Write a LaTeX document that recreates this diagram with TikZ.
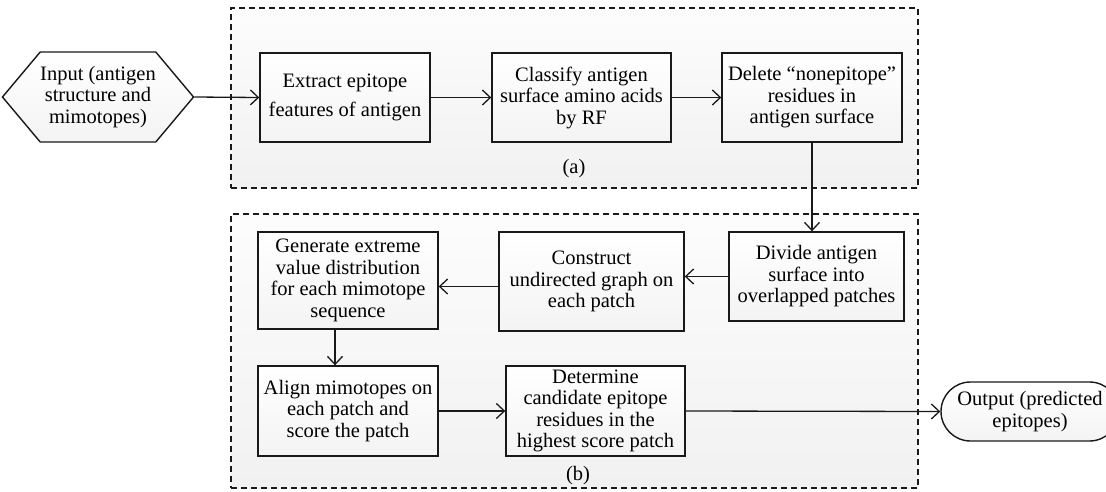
\documentclass[tikz,border=0pt]{standalone}
\usepackage{fontspec}
\setmainfont{Liberation Serif}
\usetikzlibrary{arrows.meta,shapes.symbols,shapes.misc}
\begin{document}
\begin{tikzpicture}[x=1pt,y=-1pt,
  txt/.style={font=\fontsize{20.5}{21.5}\selectfont, text=black},
  box/.style={txt, draw=black!90, line width=1.4pt, top color=white, bottom color=gray!9, align=center, inner sep=0pt},
  panel/.style={draw=black!90, dash pattern=on 6pt off 4pt, line width=1.4pt, top color=gray!2, bottom color=gray!11, inner sep=0pt},
  arr/.style={-{Straight Barb[length=8pt,width=15pt]}, line width=1.3pt, draw=black!90}
]
\useasboundingbox (0,0) rectangle (1106,491);
\node[panel, minimum width=687, minimum height=180] (pa) at (574.5,98) {};
\node[panel, minimum width=687, minimum height=274] (pb) at (574.5,351) {};

\node[box, shape=signal, signal to=west and east, signal pointer angle=100, minimum width=180, minimum height=90] (in) at (98,97) {Input (antigen\\structure and\\mimotopes)};
\node[box, minimum width=170, minimum height=89] (ext) at (345,97.5) {Extract epitope\\[7pt]features of antigen};
\node[box, minimum width=179, minimum height=89] (cls) at (581.5,97.5) {Classify antigen\\surface amino acids\\by RF};
\node[box, minimum width=180, minimum height=89] (del) at (812,97.5) {Delete “nonepitope”\\residues in\\antigen surface};
\node[box, minimum width=175, minimum height=89] (div) at (816.5,276.5) {Divide antigen\\surface into\\overlapped patches};
\node[box, minimum width=185, minimum height=99] (con) at (591.5,281.5) {Construct\\undirected graph on\\each patch};
\node[box, minimum width=180, minimum height=97] (gen) at (348,280.5) {Generate extreme\\value distribution\\for each mimotope\\sequence};
\node[box, minimum width=180, minimum height=90] (ali) at (348,411) {Align mimotopes on\\each patch and\\score the patch};
\node[box, minimum width=179, minimum height=90] (det) at (595.5,411) {Determine\\candidate epitope\\residues in the\\highest score patch};
\node[box, rounded rectangle, minimum width=178, minimum height=59] (out) at (1030,411.5) {Output (predicted\\epitopes)};

\node[txt] (la) at (574,169) {(a)};
\node[txt] (lb) at (578,476) {(b)};

\draw[arr] (in.east) -- (ext.west);
\draw[arr] (ext.east) -- (cls.west);
\draw[arr] (cls.east) -- (del.west);
\draw[arr] (del.south) -- (del.south |- div.north);
\draw[arr] (div.west) -- (div.west -| con.east);
\draw[arr] ([yshift=-5pt]con.west) -- ([yshift=-5pt]con.west -| gen.east);
\draw[arr] ([xshift=-13pt]gen.south) -- ([xshift=-13pt]gen.south |- ali.north);
\draw[arr] (ali.east) -- (det.west);
\draw[arr] (det.east) -- (out.west);
\end{tikzpicture}
\end{document}
